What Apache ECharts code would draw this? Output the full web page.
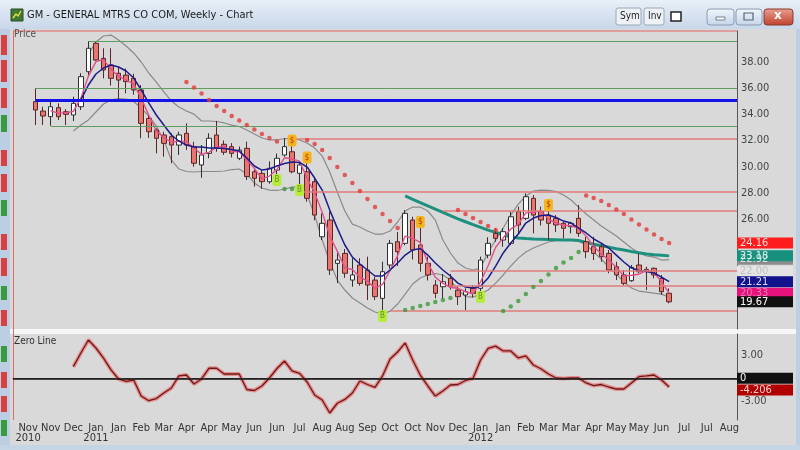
<!DOCTYPE html>
<html><head><meta charset="utf-8">
<script src="https://cdn.jsdelivr.net/npm/echarts@6/dist/echarts.min.js"></script>
<style>html,body{margin:0;padding:0;background:#c7d6e6;}#c{width:800px;height:450px;}</style>
</head><body><div id="c"></div><script>
const N_SLOTS = 97, OFF = 3;
const monthLabels = ['Nov','Nov','Dec','Jan','Jan','Feb','Mar','Apr','Apr','May','Jun','Jun','Jul','Aug','Aug','Sep','Oct','Oct','Nov','Dec','Jan','Jan','Feb','Mar','Mar','Apr','May','May','Jun','Jul','Jul','Aug'];
const yearLabels = {0:'2010', 3:'2011', 20:'2012'};
const priceTicks = [26,28,30,32,34,36,38];
const oscTicks = [3,-3];
// [open, close, low, high], weekly
const ohlc = [
[34.97,34.33,33.18,35.99],[34.25,33.87,33.18,34.58],[33.82,34.58,33.13,34.97],[34.51,33.82,33.57,34.84],[34.2,34.0,33.18,34.4],
[33.95,34.84,33.49,35.35],[34.58,36.88,34.33,37.14],[37.26,39.05,37.0,39.6],[39.43,38.15,38.1,39.6],[38.28,37.39,36.75,39.05],
[37.77,36.75,36.2,39.05],[37.14,36.62,34.97,37.64],[37.0,36.5,35.6,37.5],[36.75,35.86,35.5,37.1],[35.86,33.31,32.17,36.24],
[33.69,32.67,32.2,34.0],[32.8,32.17,31.02,32.93],[32.42,31.78,30.76,32.67],[32.29,31.65,30.26,32.55],[31.65,32.42,30.9,32.67],
[32.55,31.65,31.27,33.31],[31.53,30.26,30.0,31.9],[30.13,30.89,29.15,31.65],[31.02,32.17,30.64,32.55],[32.42,31.4,31.14,33.5],
[31.71,31.1,30.9,32.0],[31.53,31.02,30.7,31.8],[30.64,31.27,30.5,31.53],[31.4,29.24,28.98,31.91],[29.61,29.11,28.47,29.87],
[29.49,28.85,28.3,29.74],[28.85,29.87,28.7,30.4],[29.74,30.64,29.4,31.0],[30.89,31.53,30.76,32.17],[31.14,29.61,29.49,32.42],
[29.49,30.13,28.34,30.38],[29.61,27.58,27.32,30.38],[28.85,26.3,25.9,29.1],[24.64,25.67,24.39,26.43],[25.92,22.1,21.72,26.56],
[22.61,22.86,21.1,23.5],[23.37,21.85,21.5,23.7],[21.33,21.72,20.82,23.0],[22.48,21.08,20.9,23.0],[22.1,20.95,19.8,23.12],
[21.33,20.06,19.8,21.59],[19.93,21.97,18.91,22.73],[22.48,24.14,22.2,24.4],[24.26,23.5,22.4,25.0],[24.14,26.43,24.0,26.68],
[25.92,23.63,22.9,26.17],[24.01,22.61,21.97,25.67],[22.61,21.72,21.3,23.12],[20.95,20.32,19.93,21.33],[20.82,21.2,19.9,21.8],
[21.46,20.82,20.6,21.8],[20.56,20.06,19.42,20.82],[20.19,20.44,19.04,20.7],[20.7,20.3,20.0,20.95],[20.7,22.86,20.44,23.12],
[23.24,24.14,23.0,24.6],[24.9,24.52,24.26,25.3],[24.39,25.03,23.88,25.3],[24.14,26.17,24.0,26.56],[26.56,25.54,24.9,26.94],
[26.05,27.7,25.92,27.96],[27.58,26.3,24.9,27.83],[26.56,25.92,25.5,26.94],[26.3,25.67,24.39,27.45],[26.05,25.54,25.0,26.3],
[25.67,25.29,24.52,25.79],[25.41,25.67,24.9,25.79],[26.05,24.9,24.64,27.07],[24.26,23.5,23.0,24.64],[23.88,23.37,22.86,24.64],
[23.88,23.12,22.73,24.14],[23.37,22.1,21.85,23.63],[22.35,21.72,21.33,22.73],[21.72,21.08,20.95,22.1],[21.28,22.3,21.2,22.48],
[22.48,21.97,21.85,23.37],[22.15,21.97,20.56,22.35],[22.23,21.72,21.46,22.3],[21.46,20.44,20.2,21.72],[20.32,19.67,19.55,20.7]
];
const pinkStart = 2;
const pinkMA = [34.26,34.09,34.13,34.22,35.24,36.92,38.03,38.2,37.43,36.92,36.62,36.33,35.22,33.95,32.72,32.21,31.87,31.95,31.91,31.44,30.93,31.11,31.49,31.56,31.17,31.13,30.51,29.87,29.07,29.28,29.79,30.68,30.59,30.42,29.11,28.0,26.52,24.69,23.54,22.27,22.14,21.55,21.25,20.7,21.0,22.06,23.2,24.69,24.52,24.22,22.65,21.55,21.08,20.78,20.69,20.44,20.27,21.2,22.43,23.84,24.56,25.24,25.58,26.47,26.51,26.64,25.96,25.71,25.5,25.5,25.29,24.69,23.92,23.33,22.86,22.31,21.63,21.7,21.78,22.08,21.89,21.2,20.33];
const navyStart = 6;
const navyMA = [35.1,36.24,37.08,37.54,37.77,37.62,37.31,36.78,35.86,34.87,33.95,33.18,32.42,31.96,31.65,31.5,31.5,31.42,31.42,31.39,31.31,31.2,30.66,30.05,29.74,29.82,30.05,30.24,30.35,30.32,29.97,29.13,28.21,26.68,25.3,24.01,23.09,22.56,22.1,21.64,21.64,22.1,22.63,23.24,23.63,23.74,23.24,22.63,22.1,21.64,21.1,20.8,20.72,20.87,21.49,22.4,23.4,24.16,24.85,25.69,26.07,26.26,26.3,26.11,25.84,25.69,25.31,24.93,24.47,24.16,23.78,23.24,22.71,22.25,22.06,21.98,21.87,21.56,21.21];
const tealStart = 49;
const tealMA = [27.76,27.5,27.25,27.0,26.75,26.51,26.26,26.01,25.79,25.57,25.36,25.15,24.98,24.81,24.64,24.55,24.5,24.47,24.46,24.44,24.42,24.4,24.39,24.35,24.2,24.07,23.95,23.85,23.73,23.63,23.52,23.42,23.33,23.26,23.22,23.18];
const upperStart = 7;
const upperBand = [38.6,39.53,39.99,40.06,39.68,39.22,38.69,38.0,37.16,36.47,35.71,35.02,34.56,34.25,34.02,33.49,33.49,33.45,33.34,33.18,33.07,32.8,32.5,32.19,32.04,32.04,32.15,32.15,32.04,31.81,31.42,30.81,29.59,28.06,26.61,25.61,25.39,25.08,24.85,24.85,25.08,25.77,26.61,26.91,26.91,26.61,25.92,24.39,23.4,22.63,22.25,22.1,22.25,23.47,24.39,25.31,26.3,27.14,27.76,28.14,28.21,28.18,28.1,27.83,27.45,26.91,26.38,25.92,25.46,25.08,24.7,24.24,23.78,23.4,23.17,23.09,22.86,22.9];
const lowerStart = 5;
const lowerBand = [32.72,33.18,33.57,34.18,34.79,35.1,35.21,35.17,34.98,34.48,33.87,33.11,32.04,30.51,29.82,29.63,29.59,29.63,29.63,29.63,29.67,29.78,29.82,29.44,28.75,28.37,28.21,28.18,28.29,28.44,28.44,27.83,26.3,24.39,22.71,21.33,20.57,19.96,19.58,19.19,18.89,18.73,18.96,19.5,20.26,21.03,21.49,21.72,21.83,21.72,21.33,20.56,20.07,20.03,20.26,20.57,21.1,21.72,22.4,23.01,23.47,23.78,24.01,24.24,24.35,24.39,24.39,24.31,24.01,23.47,22.94,22.33,21.79,21.18,20.72,20.49,20.41,20.33,20.26,20.03];
// stop-and-reverse dots: [start candle, values]
const sarRed = [
 [20,[36.47,36.05,35.59,35.09,34.64,34.25,33.87,33.53,33.18,32.84,32.5,32.19,31.92]],
 [36,[32.04,31.73,31.27,30.66,29.97,29.36,28.75,28.14,27.53,26.91,26.38,25.84,25.31]],
 [56,[26.68,26.38,26.07,25.77,25.46,25.16]],
 [73,[27.79,27.6,27.37,27.07,26.72,26.38,25.96,25.58,25.19,24.81,24.47,24.16]]
];
const sarGreen = [
 [33,[28.29,28.29]],
 [49,[19.04,19.19,19.35,19.5,19.65,19.8,19.96]],
 [62,[18.96,19.31,19.73,20.26,20.8,21.26,21.75,22.25,22.67,23.01,23.47]]
];
const sellBadges = [[34,32.0],[36,30.7],[51,25.77],[68,27.07]];
const buyBadges = [[32,28.98],[35,28.21],[46,18.58],[59,20.03]];
const oscStart = 5;
const oscValues = [1.49,3.25,4.92,3.89,2.6,1.07,-0.09,-0.41,-0.22,-2.28,-2.88,-2.6,-1.89,-1.25,0.3,0.42,-0.73,-0.09,1.29,1.29,0.55,0.55,0.55,-1.44,-1.57,-0.99,0.04,1.26,2.22,0.94,0.64,-0.48,-2.15,-2.79,-4.46,-3.21,-2.72,-1.89,-0.35,-0.8,-1.18,0.3,2.48,3.38,4.54,2.35,0.42,-0.99,-2.28,-1.63,-0.86,-0.8,-0.28,0,2.35,3.83,4.13,3.51,3.51,2.61,2.87,1.71,1.22,0.55,0.04,-0.03,0.04,0.04,-0.6,-0.93,-0.8,-1.12,-1.38,-1.38,-0.6,0.21,0.3,0.42,-0.22,-1.12];
// horizontal levels: [start slot, price, color, width]
const levels = [
 [10,39.55,'#5e9e5e',1],[3,36.0,'#5e9e5e',1],[5,33.1,'#5e9e5e',1],
 [37,32.1,'#e07a7a',1.6],[38,28.1,'#e07a7a',1.6],[57,26.65,'#e07a7a',1.6],
 [58,22.05,'#e07a7a',1.6],[58,20.9,'#e07a7a',1.6],[50,18.98,'#e07a7a',1.6],
 [3,35.04,'#1414e6',3]
];
const priceTags = [
 ['22.92',22.92,'#8c8c8c','#dddddd'],['23.18',23.18,'#17907f','#d8f0ec'],['22.00',22.0,'#e4e4e4','#c0c0c0'],
 ['21.21',21.21,'#12128c','#dcdcff'],['20.33',20.33,'#e8127c','#f27ab4'],['19.67',19.67,'#111111','#ffffff'],
 ['24.16',24.16,'#ff1c1c','#ffdede']
];
const oscTags = [['0',0,'#111111','#ffffff'],['-4.206',-1.5,'#b00000','#ffd0d0']];

function place(start, vals, empty){ const a = new Array(N_SLOTS).fill(empty===undefined?'-':empty); vals.forEach((v,k)=>{a[OFF+start+k]=v;}); return a; }
const cats = []; for (let j=0;j<N_SLOTS;j++) cats.push('w'+j);
function labelFor(j){ const s=j-2; if (s<0||s%3) return ''; const k=s/3; const m=monthLabels[k]; if(m===undefined) return ''; return yearLabels[k]? m+'\n'+yearLabels[k] : m; }

const font = "'Liberation Sans Narrow','DejaVu Sans Condensed','Liberation Sans',sans-serif";
const series = [];
series.push({type:'line', name:'levels', xAxisIndex:0, yAxisIndex:0, data: new Array(N_SLOTS).fill('-'), silent:true, z:1,
  markLine:{silent:true, symbol:'none', label:{show:false}, animation:false,
    data: levels.map(l=>[{coord:[l[0],l[1]], lineStyle:{color:l[2], width:l[3], type:'solid'}},{coord:[N_SLOTS-1,l[1]]}])}});
series.push({type:'line', data:place(upperStart, upperBand), symbol:'none', lineStyle:{color:'#8a8a8a', width:1.2}, z:2, silent:true});
series.push({type:'line', data:place(lowerStart, lowerBand), symbol:'none', lineStyle:{color:'#8a8a8a', width:1.2}, z:2, silent:true});
series.push({type:'line', data:place(tealStart, tealMA), symbol:'none', lineStyle:{color:'#1e907f', width:3}, z:2, silent:true});
series.push({type:'candlestick', data:place(0, ohlc, ['-','-','-','-']), barWidth:5, z:3,
  itemStyle:{color:'#ffffff', color0:'#e8766e', borderColor:'#2e2e2e', borderColor0:'#5a2626', borderWidth:1}});
series.push({type:'line', data:place(pinkStart, pinkMA), symbol:'none', lineStyle:{color:'#e2508c', width:1.4}, z:4, silent:true});
series.push({type:'line', data:place(navyStart, navyMA), symbol:'none', lineStyle:{color:'#1c1c8a', width:1.5}, z:4, silent:true});
sarRed.forEach(r=>series.push({type:'scatter', data:place(r[0], r[1]), symbol:'circle', symbolSize:4.5, itemStyle:{color:'#e23a3a'}, z:5, silent:true}));
sarGreen.forEach(r=>series.push({type:'scatter', data:place(r[0], r[1]), symbol:'circle', symbolSize:4.5, itemStyle:{color:'#3a9a3a'}, z:5, silent:true}));
series.push({type:'line', data:new Array(N_SLOTS).fill('-'), z:6, silent:true,
  markPoint:{symbol:'roundRect', symbolSize:[9,12], animation:false,
    data: sellBadges.map(b=>({coord:[b[0]+OFF,b[1]], value:'$', itemStyle:{color:'#f4b51e'}, label:{color:'#c0301a'}}))
      .concat(buyBadges.map(b=>({coord:[b[0]+OFF,b[1]], value:'B', itemStyle:{color:'#b6ec3a'}, label:{color:'#6a8a30'}}))),
    label:{show:true, formatter:'{c}', fontSize:8, fontFamily:font}}});
series.push({type:'line', data:new Array(N_SLOTS).fill('-'), z:7, silent:true,
  markPoint:{symbol:'rect', symbolSize:[56,11], symbolOffset:[28,0], animation:false,
    data: priceTags.map(t=>({coord:[N_SLOTS-1,t[1]], value:t[0], itemStyle:{color:t[2]}, label:{color:t[3]}})),
    label:{show:true, position:'insideLeft', distance:3, formatter:'{c}', fontSize:11, fontFamily:font}}});
// oscillator
series.push({type:'line', xAxisIndex:1, yAxisIndex:1, data:place(oscStart, oscValues), symbol:'none', lineStyle:{color:'#e49090', width:4}, z:2, silent:true,
  markLine:{silent:true, symbol:'none', label:{show:false}, lineStyle:{color:'#151515', width:1.5, type:'solid'}, data:[{yAxis:0}]}});
series.push({type:'line', xAxisIndex:1, yAxisIndex:1, data:place(oscStart, oscValues), symbol:'none', lineStyle:{color:'#6e1818', width:1.3}, z:3, silent:true});
series.push({type:'line', xAxisIndex:1, yAxisIndex:1, data:new Array(N_SLOTS).fill('-'), z:7, silent:true,
  markPoint:{symbol:'rect', symbolSize:[56,11], symbolOffset:[28,0], animation:false,
    data: oscTags.map(t=>({coord:[N_SLOTS-1,t[1]], value:t[0], itemStyle:{color:t[2]}, label:{color:t[3]}})),
    label:{show:true, position:'insideLeft', distance:3, formatter:'{c}', fontSize:11, fontFamily:font}}});

const leftBlocks = [[35,55,'#d94040'],[60,82,'#d94040'],[88,108,'#d94040'],[115,132,'#3a9a40'],[150,166,'#d94040'],[174,192,'#d94040'],[200,216,'#3a9a40'],[234,250,'#d94040'],[258,276,'#d94040'],[286,300,'#3a9a40'],[310,326,'#d94040'],[346,362,'#3a9a40'],[372,388,'#d94040'],[396,412,'#d94040'],[420,436,'#3a9a40']];
const graphic = [
 {type:'rect', shape:{x:0,y:0,width:800,height:29}, style:{fill:{type:'linear',x:0,y:0,x2:0,y2:1,colorStops:[{offset:0,color:'#e8eff8'},{offset:1,color:'#c8d7e9'}]}}, silent:true},
 {type:'rect', shape:{x:0,y:29,width:10,height:421}, style:{fill:'#bccfe2'}, silent:true},
 {type:'rect', shape:{x:796,y:29,width:4,height:421}, style:{fill:'#bccfe2'}, silent:true},
 {type:'rect', shape:{x:0,y:445,width:800,height:5}, style:{fill:'#c4d5e6'}, silent:true},
 {type:'rect', shape:{x:10,y:329,width:786,height:5}, style:{fill:'#f6f6f6'}, silent:true},
 {type:'line', shape:{x1:13,y1:31,x2:737,y2:31}, style:{stroke:'#e08a8a', lineWidth:1.5}, silent:true},
 {type:'line', shape:{x1:13.5,y1:31,x2:13.5,y2:420}, style:{stroke:'#e06a6a', lineWidth:1}, silent:true},
 {type:'text', x:14, y:29, style:{text:'Price', fontSize:10, fill:'#505050', fontFamily:font}, silent:true},
 {type:'text', x:14, y:336, style:{text:'Zero Line', fontSize:10, fill:'#303030', fontFamily:font}, silent:true},
 {type:'rect', shape:{x:11,y:9,width:12,height:12}, style:{fill:'#3e7a34', stroke:'#2a4a22'}, silent:true},
 {type:'polyline', shape:{points:[[13,18],[16,14],[18,16],[21,11]]}, style:{stroke:'#f0e040', lineWidth:1.3}, silent:true},
 {type:'text', x:27, y:10, style:{text:'GM - GENERAL MTRS CO COM, Weekly - Chart', fontSize:11, fill:'#1a1a1a', fontFamily:font}, silent:true},
 {type:'rect', shape:{x:616,y:8,width:25,height:17,r:2}, style:{fill:'#eef2f7', stroke:'#9aa8b8'}, silent:true},
 {type:'text', x:620, y:11, style:{text:'Sym', fontSize:10, fill:'#222', fontFamily:font}, silent:true},
 {type:'rect', shape:{x:644,y:8,width:20,height:17,r:2}, style:{fill:'#eef2f7', stroke:'#9aa8b8'}, silent:true},
 {type:'text', x:648, y:11, style:{text:'Inv', fontSize:10, fill:'#222', fontFamily:font}, silent:true},
 {type:'rect', shape:{x:671,y:12,width:10,height:9}, style:{fill:'#ffffff', stroke:'#222', lineWidth:1.5}, silent:true},
 {type:'rect', shape:{x:707,y:9,width:27,height:16,r:3}, style:{fill:{type:'linear',x:0,y:0,x2:0,y2:1,colorStops:[{offset:0,color:'#f0f5fb'},{offset:1,color:'#c5d5e8'}]}, stroke:'#8a9cb2'}, silent:true},
 {type:'rect', shape:{x:716,y:17,width:9,height:3}, style:{fill:'#ffffff', stroke:'#55657a', lineWidth:0.8}, silent:true},
 {type:'rect', shape:{x:736,y:9,width:26,height:16,r:3}, style:{fill:{type:'linear',x:0,y:0,x2:0,y2:1,colorStops:[{offset:0,color:'#f0f5fb'},{offset:1,color:'#c5d5e8'}]}, stroke:'#8a9cb2'}, silent:true},
 {type:'rect', shape:{x:744,y:13,width:9,height:7}, style:{fill:'none', stroke:'#55657a', lineWidth:1.2}, silent:true},
 {type:'rect', shape:{x:764,y:9,width:29,height:16,r:3}, style:{fill:{type:'linear',x:0,y:0,x2:0,y2:1,colorStops:[{offset:0,color:'#e8a090'},{offset:1,color:'#c0402e'}]}, stroke:'#8a3a2a'}, silent:true},
 {type:'text', x:774, y:10, style:{text:'x', fontSize:12, fontWeight:'bold', fill:'#ffffff', fontFamily:'DejaVu Sans'}, silent:true}
].concat(leftBlocks.map(b=>({type:'rect', shape:{x:1,y:b[0],width:6,height:b[1]-b[0]}, style:{fill:b[2]}, silent:true})));

const chart = echarts.init(document.getElementById('c'), null, {renderer:'canvas'});
chart.setOption({
  animation:false,
  backgroundColor:'#d9d9d9',
  graphic: graphic,
  grid:[{left:13, top:31, width:724, height:298, show:false},{left:13, top:334, width:724, height:86, show:false}],
  xAxis:[
    {type:'category', gridIndex:0, data:cats, boundaryGap:false, axisLine:{show:false}, axisTick:{show:false}, axisLabel:{show:false}, splitLine:{show:false}},
    {type:'category', gridIndex:1, data:cats, boundaryGap:false, axisLine:{show:true, lineStyle:{color:'#444', width:1}}, axisTick:{show:false}, splitLine:{show:false},
      axisLabel:{show:true, interval:(j)=>labelFor(j)!=='', formatter:(v,j)=>labelFor(j), color:'#333', fontSize:11, lineHeight:10, margin:3, fontFamily:font}}
  ],
  yAxis:[
    {type:'value', gridIndex:0, position:'right', min:17.59, max:40.37, splitLine:{show:false}, axisTick:{show:false},
      axisLine:{show:true, lineStyle:{color:'#555'}},
      axisLabel:{customValues:priceTicks, formatter:(v)=>v.toFixed(2), color:'#444', fontSize:11, margin:4, fontFamily:font}},
    {type:'value', gridIndex:1, position:'right', min:-5.36, max:5.69, splitLine:{show:false}, axisTick:{show:false},
      axisLine:{show:true, lineStyle:{color:'#555'}},
      axisLabel:{customValues:oscTicks, formatter:(v)=>v.toFixed(2), color:'#444', fontSize:11, margin:4, fontFamily:font}}
  ],
  series: series
});
</script></body></html>
